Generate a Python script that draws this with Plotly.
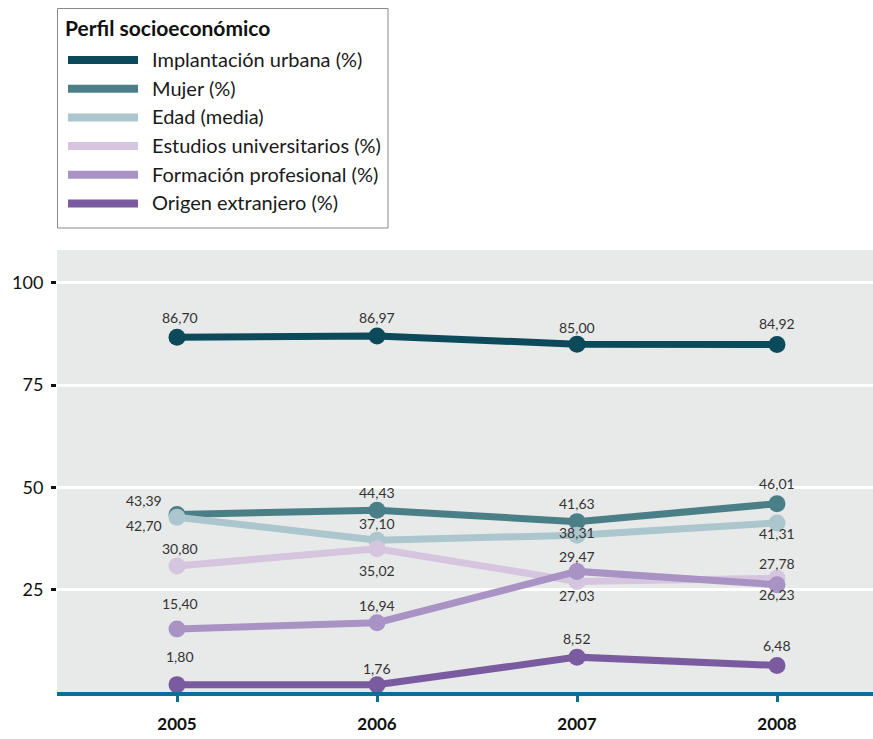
import plotly.graph_objects as go

# ---- data ----
years = ["2005", "2006", "2007", "2008"]
series_names = [
    "Implantación urbana (%)",
    "Mujer (%)",
    "Edad (media)",
    "Estudios universitarios (%)",
    "Formación profesional (%)",
    "Origen extranjero (%)",
]
implantacion = [86.70, 86.97, 85.00, 84.92]
mujer = [43.39, 44.43, 41.63, 46.01]
edad = [42.70, 37.10, 38.31, 41.31]
estudios = [30.80, 35.02, 27.03, 27.78]
formacion = [15.40, 16.94, 29.47, 26.23]
origen = [1.80, 1.76, 8.52, 6.48]
y_ticks = [25, 50, 75, 100]
legend_title = "Perfil socioeconómico"

# ---- styles ----
colors = ["#0c4a5b", "#4b7f88", "#abc6cc", "#d5c5df", "#a993c5", "#7b5b9f"]
all_series = [implantacion, mujer, edad, estudios, formacion, origen]
# label offsets (px): yshift (positive = up), xshift
label_yshift = [
    [20, 19, 17, 21],
    [14, 18, 18, 20],
    [-8, 17, 3, -11],
    [17, -22, -14, 15],
    [25, 17, 15, -10],
    [28, 16, 19, 20],
]
label_xshift = [
    [3, 0, 0, 0],
    [-33, 0, 0, 0],
    [-33, 0, 0, 0],
    [3, 0, 0, 0],
    [3, 0, 0, 0],
    [3, 0, 0, 0],
]

FONT = "Lato"
# target geometry in window pixels (page margin removed below)
PLOT_L, PLOT_T, PLOT_B, W, H = 57, 250, 692, 873, 739
L = PLOT_L
T = PLOT_T
B = H - PLOT_B
PW = W - L
PH = H - T - B


def xp(px):
    return (px - PLOT_L) / PW


def yp(py):
    return (PLOT_B - py) / PH


xpos = list(range(len(years)))
fig = go.Figure()
annotations = []
for i, (name, vals, col) in enumerate(zip(series_names, all_series, colors)):
    fig.add_trace(go.Scatter(
        x=xpos, y=vals, name=name, mode="lines+markers",
        line=dict(color=col, width=7),
        marker=dict(color=col, size=17),
        showlegend=False, hoverinfo="skip",
    ))
    for j, v in enumerate(vals):
        annotations.append(dict(
            x=xpos[j], y=v, xref="x", yref="y",
            text=f"{v:.2f}".replace(".", ","), showarrow=False,
            yshift=label_yshift[i][j], xshift=label_xshift[i][j],
            font=dict(family=FONT, size=14, color="#333333"),
        ))

# manual legend
shapes = [dict(type="rect", xref="paper", yref="paper",
               x0=xp(57.5), x1=xp(388), y0=yp(228), y1=yp(8.5),
               line=dict(color="#8a8a8a", width=1), fillcolor="white", layer="above")]
annotations.append(dict(x=xp(63), y=yp(27), xref="paper", yref="paper",
                        xanchor="left", yanchor="middle", showarrow=False,
                        text=f"<b>{legend_title}</b>",
                        font=dict(family=FONT, size=21, color="#111111")))
for k, (name, col) in enumerate(zip(series_names, colors)):
    ypix = 60 + k * 28.7
    shapes.append(dict(type="line", xref="paper", yref="paper",
                       x0=xp(68), x1=xp(138), y0=yp(ypix), y1=yp(ypix),
                       line=dict(color=col, width=8), layer="above"))
    annotations.append(dict(x=xp(150), y=yp(ypix - 1), xref="paper", yref="paper",
                            xanchor="left", yanchor="middle", showarrow=False,
                            text=name,
                            font=dict(family=FONT, size=20, color="#1a1a1a")))

fig.update_layout(
    width=W, height=H,
    margin=dict(l=L, r=0, t=T, b=B, pad=0),
    paper_bgcolor="white", plot_bgcolor="#e8e9e9",
    font=dict(family=FONT),
    shapes=shapes, annotations=annotations,
    showlegend=False,
)
fig.update_xaxes(
    range=[-0.6, 3.48], tickmode="array", tickvals=xpos, ticktext=years,
    showgrid=False, zeroline=False,
    showline=True, linecolor="#0e6e97", linewidth=4,
    ticks="outside", ticklen=6, tickwidth=3, tickcolor="#0e6e97",
    tickfont=dict(family=FONT, size=17, color="#111111", weight="bold"),
    ticklabelstandoff=8,
)
fig.update_yaxes(
    range=[0, 108], tickmode="array", tickvals=y_ticks,
    showgrid=True, gridcolor="white", gridwidth=2.5, zeroline=False,
    showline=False, ticks="outside", ticklen=5, tickwidth=3, tickcolor="#111111",
    tickfont=dict(family=FONT, size=18, color="#111111"),
    ticklabelstandoff=4,
)
fig.write_html(
    "out.html",
    config={"displayModeBar": False},
    post_script="document.body.style.margin='0';document.body.style.overflow='hidden';",
)
